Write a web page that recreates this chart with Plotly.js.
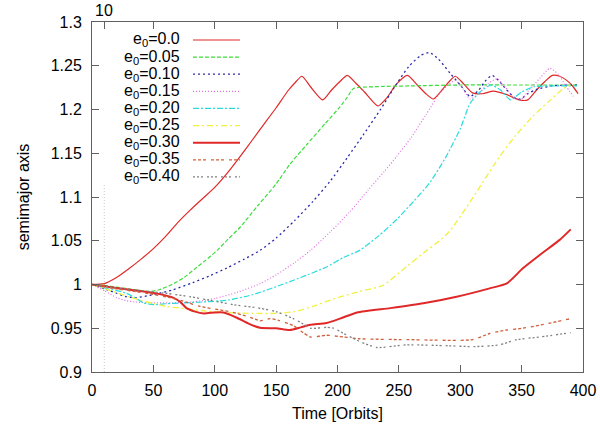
<!DOCTYPE html>
<html>
<head>
<meta charset="utf-8">
<script src="https://cdn.plot.ly/plotly-3.0.1.min.js"></script>
<style>
  body { margin: 0; background: #fff; }
  #plot { width: 600px; height: 426px; }
</style>
</head>
<body>
<div id="plot"></div>
<script>
// semimajor axis vs time, one run per initial eccentricity
var names = ['e<sub>0</sub>=0.0', 'e<sub>0</sub>=0.05', 'e<sub>0</sub>=0.10', 'e<sub>0</sub>=0.15',
             'e<sub>0</sub>=0.20', 'e<sub>0</sub>=0.25', 'e<sub>0</sub>=0.30', 'e<sub>0</sub>=0.35', 'e<sub>0</sub>=0.40'];

var t00 = [0,10,20,30,40,50,60,70,80,90,100,110,120,130,140,150,160,165,171,178,188,195,202,208,215,222,233,240,248,257,265,272,278,285,291,296,303,310,318,327,338,348,355,362,369,375,381,387,392,396];
var a00 = [1.0,1.001,1.008,1.018,1.029,1.041,1.055,1.071,1.085,1.098,1.111,1.127,1.145,1.164,1.183,1.202,1.222,1.230,1.238,1.226,1.211,1.222,1.232,1.239,1.230,1.220,1.204,1.213,1.229,1.239,1.228,1.218,1.212,1.222,1.232,1.238,1.229,1.219,1.218,1.221,1.217,1.211,1.211,1.222,1.232,1.239,1.238,1.233,1.226,1.218];

var t05 = [0,10,20,30,40,47,55,65,75,83,92,102,111,121,135,150,161,175,190,202,208,213,230,260,300,350,395];
var a05 = [1.0,0.999,0.997,0.995,0.993,0.992,0.994,1.0,1.008,1.017,1.027,1.039,1.052,1.066,1.090,1.115,1.137,1.160,1.184,1.203,1.214,1.224,1.226,1.227,1.228,1.228,1.228];

var t10 = [0,10,20,28,36,45,55,66,82,96,110,124,137,150,165,180,194,208,221,235,248,258,268,275,282,292,300,308,315,320,326,332,338,344,349,355,362,375,395];
var a10 = [1.0,0.995,0.99,0.986,0.985,0.987,0.990,0.994,1.002,1.010,1.019,1.029,1.039,1.053,1.073,1.095,1.118,1.145,1.171,1.200,1.229,1.249,1.262,1.265,1.258,1.241,1.228,1.215,1.222,1.232,1.239,1.232,1.222,1.214,1.212,1.218,1.223,1.227,1.228];

var t15 = [0,10,20,28,35,50,65,82,100,118,137,150,165,178,194,210,225,238,248,260,272,283,290,296,302,308,315,323,330,337,343,349,356,365,373,380,386,392];
var a15 = [1.0,0.993,0.985,0.9815,0.980,0.979,0.979,0.980,0.984,0.991,1.001,1.011,1.025,1.039,1.060,1.083,1.108,1.129,1.146,1.168,1.194,1.218,1.228,1.233,1.224,1.212,1.218,1.230,1.235,1.225,1.214,1.211,1.222,1.236,1.247,1.240,1.227,1.215];

var t20 = [0,10,20,28,35,42,50,60,75,90,110,130,150,170,191,205,218,233,248,262,275,288,300,308,316,325,333,341,350,360,395];
var a20 = [1.0,0.996,0.993,0.990,0.985,0.979,0.977,0.978,0.979,0.980,0.982,0.988,0.9975,1.008,1.020,1.031,1.039,1.055,1.074,1.095,1.116,1.145,1.178,1.207,1.220,1.228,1.222,1.211,1.220,1.226,1.227];

var t25 = [0,15,30,45,60,72,90,110,130,150,165,180,200,218,237,256,270,284,292,305,318,332,345,359,372,384,390];
var a25 = [1.0,0.993,0.986,0.980,0.975,0.973,0.970,0.968,0.967,0.967,0.969,0.975,0.985,0.992,0.999,1.020,1.036,1.051,1.062,1.088,1.116,1.146,1.170,1.192,1.209,1.224,1.228];

var t30 = [0,20,42,55,66,72,77,84,91,100,107,118,128,137,150,161,170,178,191,202,216,243,270,297,324,338,351,365,381,390];
var a30 = [1.0,0.996,0.992,0.989,0.985,0.980,0.973,0.969,0.967,0.968,0.968,0.962,0.955,0.9505,0.950,0.948,0.951,0.954,0.956,0.961,0.968,0.973,0.9785,0.986,0.9956,1.0013,1.0185,1.034,1.051,1.063];

var t35 = [0,20,40,60,72,88,100,112,128,137,145,152,164,172,178,191,205,218,256,310,324,338,351,370,390];
var a35 = [1.0,0.995,0.991,0.986,0.982,0.975,0.972,0.969,0.963,0.9585,0.961,0.959,0.953,0.945,0.940,0.942,0.940,0.938,0.937,0.937,0.944,0.948,0.950,0.955,0.961];

var t40 = [0,20,40,60,80,96,115,137,150,164,172,178,191,197,205,218,232,256,290,311,332,346,365,390];
var a40 = [1.0,0.996,0.993,0.990,0.986,0.982,0.977,0.9728,0.969,0.961,0.955,0.950,0.951,0.950,0.944,0.935,0.928,0.931,0.930,0.929,0.931,0.937,0.940,0.945];

var times = [t00, t05, t10, t15, t20, t25, t30, t35, t40];
var axes = [a00, a05, a10, a15, a20, a25, a30, a35, a40];

var colors = ['#e02828', '#3cdc3c', '#2a2aa8', '#e070e0', '#28dcdc', '#f0f040', '#e02828', '#d0603c', '#808080'];
var dashes = ['solid', '4px,2px', '2px,3px', '1px,2px', '6px,2px,2px,2px', '6px,3px,2px,3px', 'solid', '3px,2px,3px,2px,3px,5px', '2px,2px,2px,2px,2px,4px'];
var widths = [1.2, 1.2, 1.3, 1.2, 1.2, 1.3, 2, 1.3, 1.3];

var yTicks = [0.9, 0.95, 1, 1.05, 1.1, 1.15, 1.2, 1.25, 1.3];
var yLabels = ['0.9', '0.95', '1', '1.05', '1.1', '1.15', '1.2', '1.25', '1.3'];
var xTicks = [0, 50, 100, 150, 200, 250, 300, 350, 400];
var topTicks = [10];

var traces = [];
for (var i = 0; i < names.length; i++) {
  traces.push({
    x: times[i], y: axes[i], name: names[i], type: 'scatter', mode: 'lines',
    line: {color: colors[i], width: widths[i], dash: dashes[i], shape: 'spline', smoothing: 0.6},
    hoverinfo: 'skip', showlegend: false
  });
}
// empty trace so the top axis (tick at 10) gets drawn
traces.push({x: [], y: [], xaxis: 'x2', type: 'scatter', mode: 'lines', showlegend: false, hoverinfo: 'skip'});

function axisFont() {
  return {family: 'Liberation Sans, Arial, sans-serif', size: 16, color: '#000'};
}

// gnuplot-like key: right-aligned text with the line sample to its right
var shapes = [{
  type: 'line', xref: 'x', yref: 'y', x0: topTicks[0], x1: topTicks[0], y0: 0.9, y1: 1.114,
  line: {color: '#c8c8c8', width: 1, dash: '1px,2px'}, layer: 'below'
}];
var annotations = [{
  xref: 'x', yref: 'paper', x: topTicks[0], y: 1, xanchor: 'center', yanchor: 'bottom', yshift: 1,
  text: String(topTicks[0]), showarrow: false, font: axisFont()
}];
var keyTop = 0.9486, keyStep = 0.0489;
for (var k = 0; k < names.length; k++) {
  var ky = keyTop - k * keyStep;
  annotations.push({
    xref: 'paper', yref: 'paper', x: 0.1833, y: ky, xanchor: 'right', yanchor: 'middle',
    text: names[k], showarrow: false, font: axisFont()
  });
  shapes.push({
    type: 'line', xref: 'paper', yref: 'paper', x0: 0.2057, x1: 0.3014, y0: ky, y1: ky,
    line: {color: colors[k], width: widths[k], dash: dashes[k]}
  });
}

var layout = {
  width: 600, height: 426,
  margin: {l: 92, r: 17, t: 22, b: 54},
  paper_bgcolor: '#fff', plot_bgcolor: '#fff',
  font: axisFont(),
  xaxis: {
    range: [0, 400], tickvals: xTicks, ticks: 'inside', ticklen: 7, tickcolor: '#606060',
    showline: true, linecolor: '#606060', linewidth: 1, mirror: 'ticks',
    showgrid: false, zeroline: false, tickfont: axisFont(), ticklabelstandoff: 4,
    title: {text: 'Time [Orbits]', font: axisFont(), standoff: 9}
  },
  xaxis2: {
    range: [0, 400], overlaying: 'x', side: 'top', anchor: 'y', tickmode: 'array',
    tickvals: topTicks, showticklabels: false,
    ticks: 'inside', ticklen: 7, tickcolor: '#606060', showline: false,
    showgrid: false, zeroline: false
  },
  yaxis: {
    range: [0.9, 1.3], tickvals: yTicks, ticktext: yLabels, ticks: 'inside', ticklen: 7,
    tickcolor: '#606060', showline: true, linecolor: '#606060', linewidth: 1, mirror: 'ticks',
    showgrid: false, zeroline: false, tickfont: axisFont(), ticklabelstandoff: 6,
    title: {text: 'semimajor axis', font: axisFont(), standoff: 17}
  },
  shapes: shapes,
  annotations: annotations,
  showlegend: false
};

Plotly.newPlot('plot', traces, layout, {staticPlot: true});
</script>
</body>
</html>
